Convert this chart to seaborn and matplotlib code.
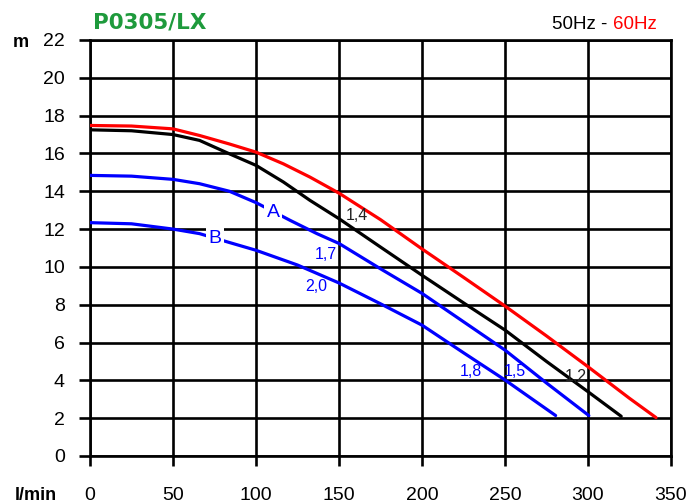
import matplotlib
matplotlib.use("Agg")
import matplotlib.pyplot as plt
import seaborn as sns
import pandas as pd

# Data (flow l/min, head m)
q_red = [0, 25, 50, 66, 84, 100, 116.5, 132.5, 150, 175, 200, 225, 250, 275, 300, 325, 341]
h_red = [17.48, 17.45, 17.3, 16.95, 16.5, 16.07, 15.45, 14.75, 13.9, 12.5, 10.95, 9.45, 7.93, 6.35, 4.72, 3.05, 2.03]

q_black = [0, 25, 50, 66, 84, 100, 116.5, 132.5, 150, 175, 200, 225, 250, 275, 300, 320]
h_black = [17.25, 17.2, 17.0, 16.69, 15.98, 15.37, 14.49, 13.52, 12.55, 11.05, 9.56, 8.1, 6.66, 5.0, 3.4, 2.1]

q_a = [0, 25, 50, 66, 84, 100, 120.6, 136.7, 150, 175, 200, 225, 250, 275, 300.5]
h_a = [14.84, 14.8, 14.63, 14.4, 14.0, 13.4, 12.46, 11.76, 11.24, 9.9, 8.6, 7.1, 5.6, 3.86, 2.14]

q_b = [0, 25, 50, 66, 84, 100, 125, 150, 175, 200, 225, 250, 280.5]
h_b = [12.34, 12.28, 12.0, 11.76, 11.29, 10.88, 10.1, 9.15, 8.05, 6.92, 5.46, 4.02, 2.14]

x_ticks = [0, 50, 100, 150, 200, 250, 300, 350]
y_ticks = [0, 2, 4, 6, 8, 10, 12, 14, 16, 18, 20, 22]

title = "P0305/LX"

curve_labels = [("1,4", 161, 12.7, "#222222"), ("1,7", 142, 10.67, "blue"), ("2,0", 136, 8.95, "blue"),
                ("1,8", 229.5, 4.46, "blue"), ("1,5", 256, 4.46, "blue"), ("1,2", 292.6, 4.2, "#222222")]
letter_labels = [("A", 110.4, 12.9), ("B", 75.3, 11.5)]

sns.set_theme(style="white")
plt.rcParams['font.family'] = ['Liberation Sans', 'DejaVu Sans']

fig = plt.figure(figsize=(6.91, 5.03), dpi=100)
ax = fig.add_axes([90/691, 47/503, 581/691, 416/503])

frames = []
for name, q, h in [("red", q_red, h_red), ("black", q_black, h_black), ("A", q_a, h_a), ("B", q_b, h_b)]:
    frames.append(pd.DataFrame({"q": q, "h": h, "curve": name}))
df = pd.concat(frames)

sns.lineplot(data=df, x="q", y="h", hue="curve", sort=False,
             palette={"red": "#ff0000", "black": "#000000", "A": "#0000ff", "B": "#0000ff"},
             linewidth=2.3, legend=False, ax=ax, zorder=3)
for ln in ax.lines:
    ln.set_solid_joinstyle("round")

ax.set_xlim(0, 350)
ax.set_ylim(0, 22)
ax.set_xticks(x_ticks)
ax.set_yticks(y_ticks)
ax.grid(True, color="black", linewidth=1.9)
ax.set_axisbelow(True)
for s in ax.spines.values():
    s.set_color("black")
    s.set_linewidth(1.9)
ax.tick_params(axis="both", direction="out", width=1.9, color="black",
               labelsize=14, labelcolor="black", bottom=True, left=True)
ax.tick_params(axis="x", length=7, pad=15)
ax.tick_params(axis="y", length=8, pad=10)
ax.set_xlabel("")
ax.set_ylabel("")

for t, x, y, c in curve_labels:
    ax.text(x, y, t, color=c, fontsize=11.5, ha="center", va="center", zorder=5,
            family=['Liberation Sans Narrow', 'Liberation Sans'])
for t, x, y in letter_labels:
    ax.text(x, y, t, color="blue", fontsize=14, ha="center", va="center", zorder=5,
            bbox=dict(facecolor="white", edgecolor="none", pad=2))

fig.text(93/691, 1 - 28.3/503, title, color="#1e9a3c", fontsize=15.5, fontweight="bold",
         family=['DejaVu Sans'], ha="left", va="baseline")
t60 = fig.text(657/691, 1 - 29/503, "60Hz", color="#ff0000", fontsize=13.5, ha="right", va="baseline")
renderer = fig.canvas.get_renderer()
bb = t60.get_window_extent(renderer=renderer)
fig.text(bb.x0 / fig.bbox.width - 1/691, 1 - 29/503, "50Hz - ", color="black", fontsize=13.5,
         ha="right", va="baseline")
fig.text(21/691, 1 - 47/503, "m", color="black", fontsize=13, fontweight="bold", ha="center", va="baseline",
         family=['Liberation Sans Narrow', 'Liberation Sans'])
fig.text(36/691, 1 - 500/503, "l/min", color="black", fontsize=13, fontweight="bold", ha="center", va="baseline",
         family=['Liberation Sans Narrow', 'Liberation Sans'])

fig.savefig("out.png", dpi=100, facecolor="white")
